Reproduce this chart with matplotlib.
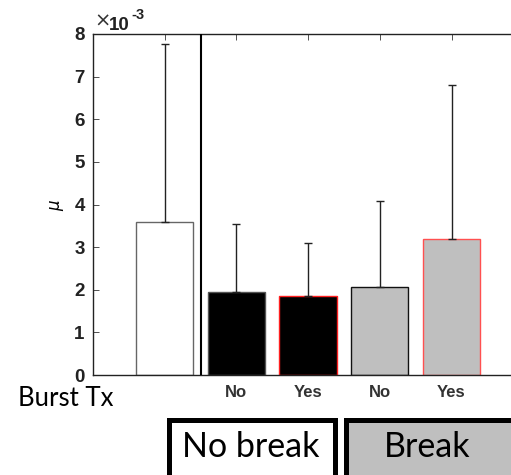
import matplotlib
matplotlib.use("Agg")
import matplotlib.pyplot as plt
from matplotlib.patches import Rectangle
import numpy as np

# data (units of 1e-3)
tick_labels = ["", "No", "Yes", "No", "Yes"]
means = [3.60, 1.955, 1.86, 2.06, 3.18]
errors_upper = [4.17, 1.585, 1.24, 2.03, 3.63]
group_labels = ["No break", "Break"]
row_label = "Burst Tx"

face_colors = ["white", "black", "black", "#bfbfbf", "#bfbfbf"]
edge_colors = ["#666666", "#555555", "#ff2020", "#111111", "#ff5050"]

W, H = 511, 475
fig = plt.figure(figsize=(W / 100, H / 100), dpi=100)
ax = fig.add_axes([93 / W, 100 / H, 430.2 / W, 341 / H])

x = np.arange(1, len(means) + 1)
ax.bar(x, means, width=0.8, color=face_colors, edgecolor=edge_colors, linewidth=1.0, zorder=2)
ax.errorbar(x, means, yerr=[np.zeros(len(means)), errors_upper], fmt="none",
            ecolor="#222222", elinewidth=1.0, capsize=3, capthick=1.0, zorder=3)
ax.axvline(1.5, color="black", linewidth=1.5, zorder=4)

ax.set_xlim(0, 6)
ax.set_ylim(0, 8)
ax.set_xticks(x)
ax.set_xticklabels(tick_labels, fontfamily="Liberation Sans", fontweight="bold", fontsize=12, color="#333333")
ax.set_yticks(range(0, 9))
ax.set_yticklabels([str(v) for v in range(0, 9)], fontfamily="Liberation Sans", fontweight="bold",
                   fontsize=13.5, color="#222222")
ax.tick_params(direction="in", top=True, right=True, length=4, width=0.6, color="#333333", pad=6)
ax.tick_params(axis="x", pad=7)
for s in ax.spines.values():
    s.set_linewidth(1.0)
    s.set_color("#222222")
ax.set_ylabel(r"$\mu$", fontsize=12, labelpad=6)

fig.text(94 / W, 1 - 21 / H, "×", fontfamily="DejaVu Sans", fontsize=14, va="center", ha="left", color="#333333")
fig.text(109 / W, 1 - 30 / H, "10", fontfamily="Liberation Sans", fontweight="bold", fontsize=13.5,
         va="baseline", ha="left", color="#222222")
fig.text(131 / W, 1 - 19 / H, "-3", fontfamily="Liberation Sans", fontweight="bold", fontsize=10.5,
         va="baseline", ha="left", color="#222222")

fig.text(18 / W, 1 - 399 / H, row_label, fontfamily="Lato", fontsize=18.5, va="center", ha="left")

# group boxes
lw_box = 3.6
fig.patches.append(Rectangle((168.5 / W, -10 / H), (334.5 - 168.5) / W, (1 - 419.5 / H) + 10 / H,
                             transform=fig.transFigure, facecolor="white", edgecolor="black",
                             linewidth=lw_box))
fig.patches.append(Rectangle((345.5 / W, -10 / H), (530 - 345.5) / W, (1 - 419.5 / H) + 10 / H,
                             transform=fig.transFigure, facecolor="#bfbfbf", edgecolor="black",
                             linewidth=lw_box))
fig.text(250.5 / W, 1 - 447 / H, group_labels[0], fontfamily="Lato", fontsize=24.5, va="center", ha="center")
fig.text(427 / W, 1 - 447 / H, group_labels[1], fontfamily="Lato", fontsize=24.5, va="center", ha="center")

fig.savefig("out.png", dpi=100)
